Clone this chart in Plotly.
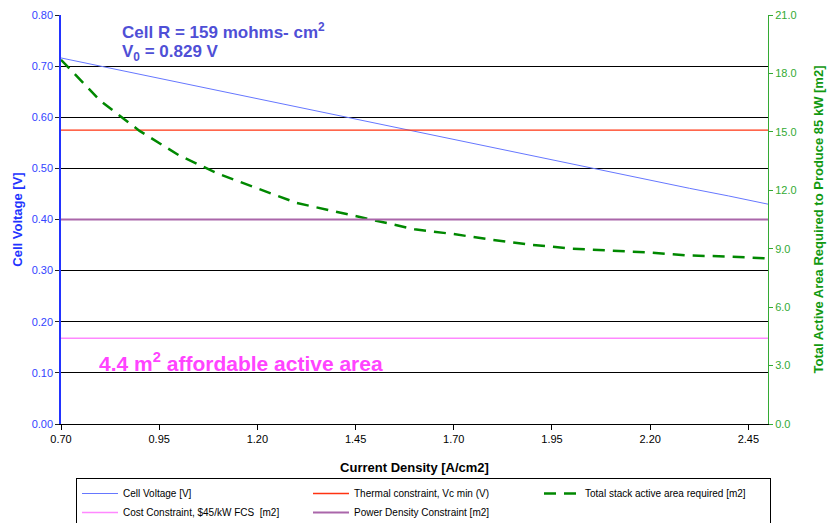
import plotly.graph_objects as go

current_density = [0.70, 0.80, 0.90, 1.00, 1.10, 1.20, 1.30, 1.40, 1.50, 1.60,
                   1.70, 1.80, 1.90, 2.00, 2.10, 2.20, 2.30, 2.40, 2.50]
cell_voltage = [0.716, 0.700, 0.684, 0.668, 0.652, 0.636, 0.620, 0.605, 0.589, 0.573,
                0.557, 0.541, 0.525, 0.509, 0.493, 0.477, 0.461, 0.446, 0.430]
total_area = [18.7, 16.6, 15.05, 13.8, 12.85, 12.1, 11.35, 10.9, 10.45, 10.0,
              9.75, 9.45, 9.2, 9.0, 8.9, 8.8, 8.65, 8.6, 8.5]
thermal_vmin = 0.575
cost_area = 4.4
power_density_area = 10.5

x_ticks = [0.70, 0.95, 1.20, 1.45, 1.70, 1.95, 2.20, 2.45]

FONT = "Arial, Liberation Sans, sans-serif"
n = len(current_density)

fig = go.Figure()
fig.add_trace(go.Scatter(x=current_density, y=cell_voltage, mode="lines",
                         name="Cell Voltage [V]", line=dict(color="#6677ff", width=1)))
fig.add_trace(go.Scatter(x=current_density, y=[thermal_vmin] * n, mode="lines",
                         name="Thermal constraint, Vc min (V)", line=dict(color="#ff3311", width=1.3)))
fig.add_trace(go.Scatter(x=current_density, y=total_area, mode="lines", yaxis="y2",
                         name="Total stack active area required [m2]",
                         line=dict(color="#008800", width=2.5, dash="12px,8px")))
fig.add_trace(go.Scatter(x=current_density, y=[cost_area] * n, mode="lines", yaxis="y2",
                         name="Cost Constraint, $45/kW FCS  [m2]", line=dict(color="#ff88ff", width=1.5)))
fig.add_trace(go.Scatter(x=current_density, y=[power_density_area] * n, mode="lines", yaxis="y2",
                         name="Power Density Constraint [m2]", line=dict(color="#aa66aa", width=2)))

fig.update_layout(
    width=835, height=523,
    margin=dict(l=61, r=67, t=15, b=99, autoexpand=False),
    paper_bgcolor="white", plot_bgcolor="white",
    font=dict(family=FONT, size=11, color="black"),
    showlegend=True,
    legend=dict(orientation="h", x=(76 - 61) / 707, y=(424 - 478) / 409, xanchor="left", yanchor="top",
                bordercolor="black", borderwidth=1, bgcolor="white",
                font=dict(family=FONT, size=10, color="black"),
                entrywidth=180, entrywidthmode="pixels", itemwidth=36,
                tracegroupgap=0),
    xaxis=dict(range=[0.70, 2.50], tickvals=x_ticks, ticktext=[f"{v:.2f}" for v in x_ticks],
               showgrid=False, showline=True, linecolor="black", linewidth=1,
               ticks="outside", ticklen=5, tickcolor="black", zeroline=False,
               automargin=False,
               tickfont=dict(size=11, color="black"),
               title=dict(text="<b>Current Density [A/cm2]</b>", font=dict(size=13, color="black"),
                          standoff=18)),
    yaxis=dict(range=[0, 0.80], dtick=0.10, tickformat=".2f",
               showgrid=True, gridcolor="black", gridwidth=1,
               showline=True, linecolor="#2233ff", linewidth=1.5,
               ticks="outside", ticklen=4, tickcolor="#222222", zeroline=False,
               automargin=False,
               tickfont=dict(size=11, color="#3344ff"),
               title=dict(text="<b>Cell Voltage [V]</b>", font=dict(size=13, color="#2233ff"),
                          standoff=6)),
    yaxis2=dict(range=[0, 21], dtick=3, tickformat=".1f", overlaying="y", side="right",
                showgrid=False, showline=True, linecolor="#33aa33", linewidth=1,
                ticks="outside", ticklen=4, tickcolor="#33aa33", zeroline=False,
                automargin=False,
                tickfont=dict(size=11, color="#33aa33"),
                title=dict(text="<b>Total Active Area Required to Produce 85 kW [m2]</b>",
                           font=dict(size=13, color="#119911"), standoff=18)),
)

fig.add_annotation(xref="paper", yref="paper", x=(120 - 61) / 707, y=(424 - 31) / 409,
                   xanchor="left", yanchor="middle", showarrow=False,
                   text="<b>Cell R = 159 mohms- cm<sup>2</sup></b>",
                   font=dict(family=FONT, size=17, color="#4f4fd6"))
fig.add_annotation(xref="paper", yref="paper", x=(120 - 61) / 707, y=(424 - 53) / 409,
                   xanchor="left", yanchor="middle", showarrow=False,
                   text="<b>V<sub>0</sub> = 0.829 V</b>",
                   font=dict(family=FONT, size=17, color="#4f4fd6"))
fig.add_annotation(xref="paper", yref="paper", x=(97 - 61) / 707, y=(424 - 362) / 409,
                   xanchor="left", yanchor="middle", showarrow=False,
                   text="<b>4.4 m<sup>2</sup> affordable active area</b>",
                   font=dict(family=FONT, size=21, color="#ff44ff"))

fig.write_html("out.html", config={"displayModeBar": False},
               post_script="document.body.style.margin='0';")
